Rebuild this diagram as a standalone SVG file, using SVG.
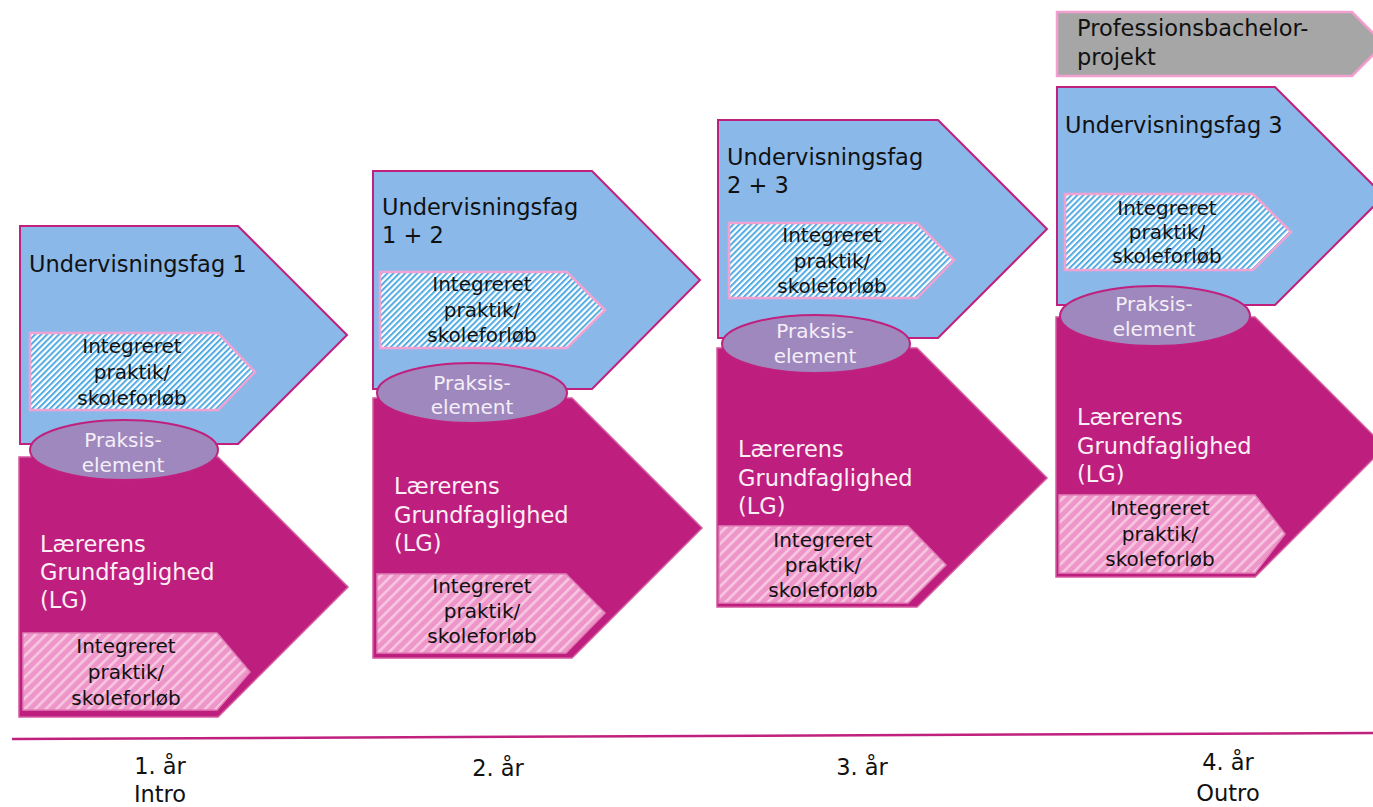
<svg xmlns="http://www.w3.org/2000/svg" width="1373" height="807" viewBox="0 0 1373 807">
<defs>
<pattern id="hatchBlue" patternUnits="userSpaceOnUse" width="4.2" height="4.2" patternTransform="rotate(45)">
<rect x="0" y="0" width="4.2" height="4.2" fill="#ffffff"/>
<rect x="0" y="0" width="2" height="4.2" fill="#52ABE2"/>
</pattern>
<pattern id="hatchPink" patternUnits="userSpaceOnUse" width="7.5" height="7.5" patternTransform="rotate(45)">
<rect x="0" y="0" width="7.5" height="7.5" fill="#EE96C9"/>
<rect x="0" y="0" width="2.6" height="7.5" fill="#F7C6E1"/>
</pattern>
<style>
.blue{fill:#8AB8E9;stroke:#C0207E;stroke-width:2}
.mag{fill:#BE1E7E;stroke:#D45A9E;stroke-width:1.5}
.hb{fill:url(#hatchBlue);stroke:#F2A2D2;stroke-width:2.5}
.hp{fill:url(#hatchPink);stroke:#E27FB8;stroke-width:1.5}
.ell{fill:#9F88BD;stroke:#C0207E;stroke-width:2}
.gray{fill:#A6A6A6;stroke:#F29ECF;stroke-width:2.5}
text{font-family:"DejaVu Sans","Liberation Sans",sans-serif}
.t{font-size:22.5px;fill:#111111}
.tw{font-size:22.5px;fill:#FBEFF6}
.s{font-size:20px;fill:#111111;text-anchor:middle}
.e{font-size:20px;fill:#F4EEF8;text-anchor:middle}
.y{font-size:22.5px;fill:#111111;text-anchor:middle}
</style>
</defs>
<rect width="1373" height="807" fill="#ffffff"/>

<g id="timeline">
<line x1="12" y1="739" x2="1373" y2="733" stroke="#C0207E" stroke-width="2.5"/>
</g>

<g id="year1">
<path class="blue" d="M20,226 H238 L347,335 L238,444 H20 Z"/>
<text class="t" x="29" y="272">Undervisningsfag 1</text>
<path class="hb" d="M30,333 H218 L255,372 L218,410 H30 Z"/>
<text class="s" x="132" y="353">Integreret</text>
<text class="s" x="132" y="379">praktik/</text>
<text class="s" x="132" y="405">skoleforløb</text>
<path class="mag" d="M19,457 H218 L348,587 L218,717 H19 Z"/>
<text class="tw" x="40" y="552">Lærerens</text>
<text class="tw" x="40" y="580">Grundfaglighed</text>
<text class="tw" x="40" y="608">(LG)</text>
<path class="hp" d="M23,633 H217 L250,672 L217,710 H23 Z"/>
<text class="s" x="126" y="653">Integreret</text>
<text class="s" x="126" y="679">praktik/</text>
<text class="s" x="126" y="705">skoleforløb</text>
<ellipse class="ell" cx="124" cy="450" rx="94" ry="30"/>
<text class="e" x="123" y="447">Praksis-</text>
<text class="e" x="123" y="472">element</text>
</g>

<g id="year2">
<path class="blue" d="M373,171 H592 L700,280 L592,389 H373 Z"/>
<text class="t" x="382" y="215">Undervisningsfag</text>
<text class="t" x="382" y="243">1 + 2</text>
<path class="hb" d="M380,272 H567 L605,310 L567,348 H380 Z"/>
<text class="s" x="482" y="291">Integreret</text>
<text class="s" x="482" y="317">praktik/</text>
<text class="s" x="482" y="342">skoleforløb</text>
<path class="mag" d="M373,398 H572 L702,528 L572,658 H373 Z"/>
<text class="tw" x="394" y="494">Lærerens</text>
<text class="tw" x="394" y="523">Grundfaglighed</text>
<text class="tw" x="394" y="551">(LG)</text>
<path class="hp" d="M377,574 H566 L605,613 L566,653 H377 Z"/>
<text class="s" x="482" y="593">Integreret</text>
<text class="s" x="482" y="618">praktik/</text>
<text class="s" x="482" y="643">skoleforløb</text>
<ellipse class="ell" cx="472" cy="393" rx="95" ry="30"/>
<text class="e" x="472" y="390">Praksis-</text>
<text class="e" x="472" y="414">element</text>
</g>

<g id="year3">
<path class="blue" d="M718,120 H938 L1047,229 L938,338 H718 Z"/>
<text class="t" x="727" y="165">Undervisningsfag</text>
<text class="t" x="727" y="193">2 + 3</text>
<path class="hb" d="M729,223 H917 L954,260 L917,298 H729 Z"/>
<text class="s" x="832" y="242">Integreret</text>
<text class="s" x="832" y="268">praktik/</text>
<text class="s" x="832" y="293">skoleforløb</text>
<path class="mag" d="M717,348 H917 L1047,478 L917,607 H717 Z"/>
<text class="tw" x="738" y="457">Lærerens</text>
<text class="tw" x="738" y="486">Grundfaglighed</text>
<text class="tw" x="738" y="514">(LG)</text>
<path class="hp" d="M719,526 H908 L946,565 L908,603 H719 Z"/>
<text class="s" x="823" y="547">Integreret</text>
<text class="s" x="823" y="572">praktik/</text>
<text class="s" x="823" y="597">skoleforløb</text>
<ellipse class="ell" cx="816" cy="344" rx="94" ry="29"/>
<text class="e" x="815" y="338">Praksis-</text>
<text class="e" x="815" y="363">element</text>
</g>

<g id="year4">
<path class="gray" d="M1057,12 H1352 L1384,44 L1352,76 H1057 Z"/>
<text class="t" x="1077" y="36">Professionsbachelor-</text>
<text class="t" x="1077" y="65">projekt</text>
<path class="blue" d="M1057,87 H1275 L1384,196 L1275,305 H1057 Z"/>
<text class="t" x="1065" y="133">Undervisningsfag 3</text>
<path class="hb" d="M1065,194 H1253 L1291,232 L1253,270 H1065 Z"/>
<text class="s" x="1167" y="215">Integreret</text>
<text class="s" x="1167" y="239">praktik/</text>
<text class="s" x="1167" y="263">skoleforløb</text>
<path class="mag" d="M1056,317 H1255 L1385,447 L1255,577 H1056 Z"/>
<text class="tw" x="1077" y="425">Lærerens</text>
<text class="tw" x="1077" y="454">Grundfaglighed</text>
<text class="tw" x="1077" y="482">(LG)</text>
<path class="hp" d="M1059,495 H1255 L1285,534 L1255,573 H1059 Z"/>
<text class="s" x="1160" y="515">Integreret</text>
<text class="s" x="1160" y="541">praktik/</text>
<text class="s" x="1160" y="566">skoleforløb</text>
<ellipse class="ell" cx="1155" cy="316" rx="95" ry="30"/>
<text class="e" x="1154" y="311">Praksis-</text>
<text class="e" x="1154" y="336">element</text>
</g>

<g id="labels">
<text class="y" x="160" y="774">1. år</text>
<text class="y" x="160" y="802">Intro</text>
<text class="y" x="498" y="776">2. år</text>
<text class="y" x="862" y="775">3. år</text>
<text class="y" x="1228" y="770">4. år</text>
<text class="y" x="1228" y="801">Outro</text>
</g>
</svg>
